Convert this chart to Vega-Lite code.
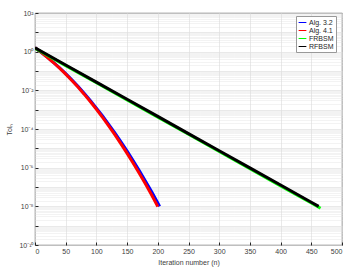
{
  "$schema": "https://vega.github.io/schema/vega-lite/v6.json",
  "autosize": "none",
  "width": 307,
  "height": 232,
  "padding": {"left": 35, "top": 13, "right": 11, "bottom": 28},
  "background": "white",
  "config": {
    "font": "Liberation Sans",
    "view": {"stroke": "#262626", "strokeWidth": 0.8},
    "axis": {"labelFont": "Liberation Sans", "titleFont": "Liberation Sans", "labelFontSize": 7, "titleFontSize": 7, "labelColor": "#404040", "titleColor": "#404040", "titleFontWeight": "normal", "domain": false, "tickColor": "#262626"}
  },
  "data": {"values": [
    {"s": "Alg. 3.2", "n": 0, "tol": 1.585},
    {"s": "Alg. 3.2", "n": 10, "tol": 0.930},
    {"s": "Alg. 3.2", "n": 20, "tol": 0.524},
    {"s": "Alg. 3.2", "n": 30, "tol": 0.283},
    {"s": "Alg. 3.2", "n": 40, "tol": 0.147},
    {"s": "Alg. 3.2", "n": 50, "tol": 0.0731},
    {"s": "Alg. 3.2", "n": 60, "tol": 0.0349},
    {"s": "Alg. 3.2", "n": 70, "tol": 0.0160},
    {"s": "Alg. 3.2", "n": 80, "tol": 0.00705},
    {"s": "Alg. 3.2", "n": 90, "tol": 0.00298},
    {"s": "Alg. 3.2", "n": 100, "tol": 0.001206},
    {"s": "Alg. 3.2", "n": 110, "tol": 0.000469},
    {"s": "Alg. 3.2", "n": 120, "tol": 0.0001754},
    {"s": "Alg. 3.2", "n": 130, "tol": 0.0000628},
    {"s": "Alg. 3.2", "n": 140, "tol": 0.0000216},
    {"s": "Alg. 3.2", "n": 150, "tol": 0.00000712},
    {"s": "Alg. 3.2", "n": 160, "tol": 0.00000225},
    {"s": "Alg. 3.2", "n": 170, "tol": 6.86e-7},
    {"s": "Alg. 3.2", "n": 180, "tol": 2.0e-7},
    {"s": "Alg. 3.2", "n": 190, "tol": 5.6e-8},
    {"s": "Alg. 3.2", "n": 200, "tol": 1.51e-8},
    {"s": "Alg. 3.2", "n": 203, "tol": 1.0e-8},
    {"s": "Alg. 4.1", "n": 0, "tol": 1.585},
    {"s": "Alg. 4.1", "n": 10, "tol": 0.922},
    {"s": "Alg. 4.1", "n": 20, "tol": 0.514},
    {"s": "Alg. 4.1", "n": 30, "tol": 0.275},
    {"s": "Alg. 4.1", "n": 40, "tol": 0.141},
    {"s": "Alg. 4.1", "n": 50, "tol": 0.0692},
    {"s": "Alg. 4.1", "n": 60, "tol": 0.0326},
    {"s": "Alg. 4.1", "n": 70, "tol": 0.01469},
    {"s": "Alg. 4.1", "n": 80, "tol": 0.00635},
    {"s": "Alg. 4.1", "n": 90, "tol": 0.002636},
    {"s": "Alg. 4.1", "n": 100, "tol": 0.001047},
    {"s": "Alg. 4.1", "n": 110, "tol": 0.000399},
    {"s": "Alg. 4.1", "n": 120, "tol": 0.0001456},
    {"s": "Alg. 4.1", "n": 130, "tol": 0.0000509},
    {"s": "Alg. 4.1", "n": 140, "tol": 0.0000171},
    {"s": "Alg. 4.1", "n": 150, "tol": 0.0000055},
    {"s": "Alg. 4.1", "n": 160, "tol": 0.00000169},
    {"s": "Alg. 4.1", "n": 170, "tol": 5.0e-7},
    {"s": "Alg. 4.1", "n": 180, "tol": 1.42e-7},
    {"s": "Alg. 4.1", "n": 190, "tol": 3.85e-8},
    {"s": "Alg. 4.1", "n": 200, "tol": 9.6e-9},
    {"s": "FRBSM", "n": 0, "tol": 1.479},
    {"s": "FRBSM", "n": 50, "tol": 0.191},
    {"s": "FRBSM", "n": 100, "tol": 0.02466},
    {"s": "FRBSM", "n": 150, "tol": 0.003184},
    {"s": "FRBSM", "n": 200, "tol": 0.000411},
    {"s": "FRBSM", "n": 250, "tol": 0.0000531},
    {"s": "FRBSM", "n": 300, "tol": 0.00000685},
    {"s": "FRBSM", "n": 350, "tol": 8.85e-7},
    {"s": "FRBSM", "n": 400, "tol": 1.143e-7},
    {"s": "FRBSM", "n": 450, "tol": 1.476e-8},
    {"s": "FRBSM", "n": 465, "tol": 7.98e-9},
    {"s": "RFBSM", "n": 0, "tol": 1.585},
    {"s": "RFBSM", "n": 50, "tol": 0.2054},
    {"s": "RFBSM", "n": 100, "tol": 0.0266},
    {"s": "RFBSM", "n": 150, "tol": 0.003447},
    {"s": "RFBSM", "n": 200, "tol": 0.000447},
    {"s": "RFBSM", "n": 250, "tol": 0.0000579},
    {"s": "RFBSM", "n": 300, "tol": 0.0000075},
    {"s": "RFBSM", "n": 350, "tol": 9.72e-7},
    {"s": "RFBSM", "n": 400, "tol": 1.26e-7},
    {"s": "RFBSM", "n": 450, "tol": 1.63e-8},
    {"s": "RFBSM", "n": 462, "tol": 1.0e-8}
  ]},
  "resolve": {"axis": {"y": "independent", "x": "independent"}},
  "layer": [
    {
      "mark": {"type": "line", "opacity": 0},
      "encoding": {
        "x": {"field": "n", "type": "quantitative", "scale": {"domain": [0, 500], "nice": false}, "axis": null},
        "y": {"field": "tol", "type": "quantitative", "scale": {"type": "log", "domain": [1e-10, 100], "nice": false},
          "axis": {"orient": "left", "title": null, "labels": false, "ticks": false, "grid": true, "gridColor": "#dedede", "gridDash": [1, 1], "gridWidth": 0.7,
            "values": [2e-10,3e-10,4e-10,5e-10,6e-10,7e-10,8e-10,9e-10,2e-9,3e-9,4e-9,5e-9,6e-9,7e-9,8e-9,9e-9,2e-8,3e-8,4e-8,5e-8,6e-8,7e-8,8e-8,9e-8,2e-7,3e-7,4e-7,5e-7,6e-7,7e-7,8e-7,9e-7,2e-6,3e-6,4e-6,5e-6,6e-6,7e-6,8e-6,9e-6,2e-5,3e-5,4e-5,5e-5,6e-5,7e-5,8e-5,9e-5,2e-4,3e-4,4e-4,5e-4,6e-4,7e-4,8e-4,9e-4,2e-3,3e-3,4e-3,5e-3,6e-3,7e-3,8e-3,9e-3,0.02,0.03,0.04,0.05,0.06,0.07,0.08,0.09,0.2,0.3,0.4,0.5,0.6,0.7,0.8,0.9,2,3,4,5,6,7,8,9,20,30,40,50,60,70,80,90]}}
      }
    },
    {
      "mark": {"type": "line", "strokeWidth": 3, "clip": true},
      "encoding": {
        "x": {"field": "n", "type": "quantitative", "scale": {"domain": [0, 500], "nice": false},
          "axis": {"title": "Iteration number (n)", "titleColor": "#404040", "values": [0,50,100,150,200,250,300,350,400,450,500], "grid": true, "gridColor": "#e0e0e0", "gridWidth": 0.7, "tickSize": -3, "labelPadding": 5, "titlePadding": 4}},
        "y": {"field": "tol", "type": "quantitative", "scale": {"type": "log", "domain": [1e-10, 100], "nice": false},
          "axis": {"orient": "left", "title": "Tolₙ", "titleColor": "#404040", "values": [1e-10,1e-9,1e-8,1e-7,1e-6,1e-5,1e-4,1e-3,0.01,0.1,1,10,100], "grid": true, "gridColor": "#e0e0e0", "gridWidth": 0.7, "tickSize": -3, "labelPadding": 5, "titlePadding": 6,
            "labelExpr": "['10⁻¹⁰','','10⁻⁸','','10⁻⁶','','10⁻⁴','','10⁻²','','10⁰','','10²'][round(log(datum.value)/LN10)+10]"}},
        "color": {"field": "s", "type": "nominal", "title": null,
          "scale": {"domain": ["Alg. 3.2", "Alg. 4.1", "FRBSM", "RFBSM"], "range": ["#0000ff", "#ff0000", "#00ff00", "#000000"]},
          "legend": {"orient": "none", "legendX": 261, "legendY": 3, "symbolType": "stroke", "symbolStrokeWidth": 1, "symbolSize": 60, "labelFontSize": 7, "labelFont": "Liberation Sans", "labelColor": "#262626", "rowPadding": 0, "padding": 2, "strokeColor": "#999999", "fillColor": "white", "labelOffset": 2}}
      }
    }
  ]
}
